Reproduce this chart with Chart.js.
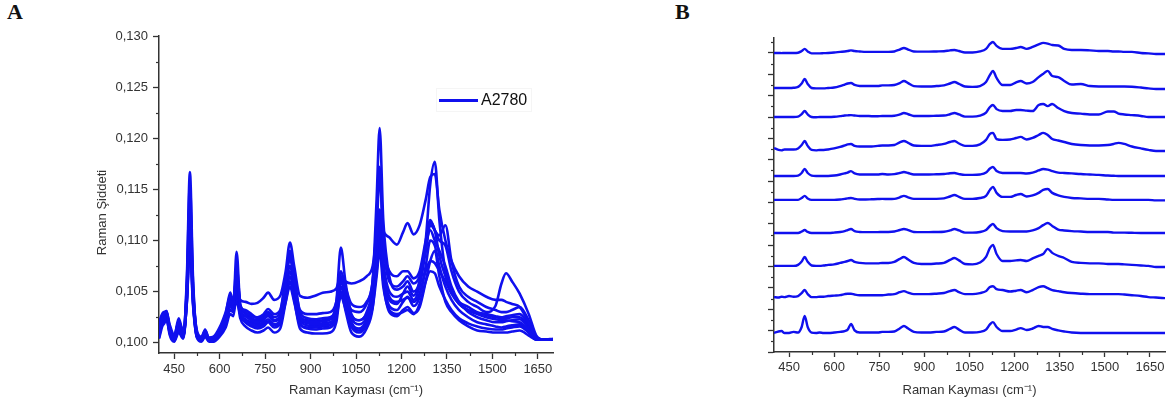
<!DOCTYPE html>
<html>
<head>
<meta charset="utf-8">
<script src="https://cdn.jsdelivr.net/npm/chart.js@4.4.1/dist/chart.umd.min.js"></script>
<style>
  html, body { margin: 0; padding: 0; background: #fff; }
  #page { position: relative; width: 1170px; height: 405px; overflow: hidden; font-family: "Liberation Sans", Arial, sans-serif; }
  .panel { position: absolute; top: 0; width: 570px; height: 405px; }
  #boxA { left: 0; }
  #boxB { left: 600px; }
  .tag { position: absolute; top: 1px; font: bold 22px/22px "Liberation Serif", serif; color: #111; }
  .legend { position: absolute; left: 436px; top: 88px; width: 94px; height: 22px; border: 1px solid #f5f5f5; }
  .legend .ln { position: absolute; left: 2px; top: 10px; width: 39px; height: 2.5px; background: #1010ee; }
  .legend .tx { position: absolute; left: 44px; top: 0; font-size: 16px; line-height: 22px; color: #111; }
</style>
</head>
<body>
<div id="page">
  <div class="tag" style="left:7px">A</div>
  <div class="tag" style="left:675px">B</div>
  <div class="panel" id="boxA"><canvas id="chartA" width="570" height="405"></canvas></div>
  <div class="panel" id="boxB"><canvas id="chartB" width="570" height="405"></canvas></div>
  <div class="legend"><div class="ln"></div><div class="tx">A2780</div></div>
</div>
<script>
// Raman shift grid (cm-1) shared by all spectra
const shift = [400, 415, 425, 435, 450, 465, 480, 492, 502, 512, 525, 540, 552, 565, 580, 600, 620, 635, 645, 656,
  668, 685, 705, 725, 745, 760, 780, 800, 818, 832, 846, 865, 890, 915, 940, 965, 985, 1000, 1015, 1035,
  1060, 1085, 1105, 1118, 1128, 1140, 1160, 1185, 1205, 1220, 1240, 1260, 1280, 1295, 1310, 1325, 1345, 1365, 1390, 1420,
  1450, 1480, 1510, 1530, 1545, 1565, 1590, 1620, 1645, 1670, 1700];

// Panel A: overlaid A2780 spectra (Raman intensity)
const specA = [
  [0.1015,0.1028,0.1030,0.1018,0.1008,0.1020,0.1012,0.1050,0.1110,0.1050,0.1012,0.1006,0.1012,0.1005,0.1006,0.1015,0.1030,0.1045,0.1042,0.1065,0.1042,0.1040,0.1038,0.1039,0.1044,0.1049,0.1042,0.1046,0.1070,0.1098,0.1075,0.1046,0.1044,0.1046,0.1049,0.1050,0.1053,0.1065,0.1060,0.1058,0.1060,0.1065,0.1075,0.1105,0.1130,0.1110,0.1103,0.1096,0.1108,0.1117,0.1106,0.1115,0.1140,0.1162,0.1165,0.1130,0.1100,0.1080,0.1065,0.1055,0.1050,0.1045,0.1042,0.1042,0.1040,0.1038,0.1035,0.1020,0.1005,0.1003,0.1004],
  [0.1008,0.1025,0.1031,0.1015,0.1003,0.1022,0.1008,0.1060,0.1155,0.1060,0.1010,0.1003,0.1011,0.1003,0.1004,0.1012,0.1025,0.1042,0.1038,0.1075,0.1038,0.1030,0.1026,0.1025,0.1028,0.1033,0.1028,0.1032,0.1060,0.1085,0.1062,0.1032,0.1028,0.1028,0.1029,0.1030,0.1040,0.1070,0.1055,0.1038,0.1035,0.1040,0.1060,0.1120,0.1172,0.1100,0.1060,0.1055,0.1060,0.1065,0.1058,0.1065,0.1090,0.1115,0.1110,0.1100,0.1095,0.1070,0.1050,0.1040,0.1035,0.1030,0.1036,0.1058,0.1068,0.1060,0.1048,0.1028,0.1007,0.1003,0.1003],
  [0.1005,0.1028,0.1031,0.1010,0.1002,0.1015,0.1005,0.1065,0.1167,0.1065,0.1008,0.1002,0.1009,0.1002,0.1003,0.1010,0.1020,0.1035,0.1035,0.1089,0.1035,0.1022,0.1018,0.1016,0.1022,0.1028,0.1022,0.1026,0.1055,0.1090,0.1060,0.1025,0.1020,0.1020,0.1021,0.1023,0.1040,0.1093,0.1060,0.1028,0.1022,0.1030,0.1060,0.1140,0.1210,0.1120,0.1065,0.1052,0.1055,0.1060,0.1050,0.1060,0.1100,0.1155,0.1177,0.1120,0.1070,0.1050,0.1038,0.1032,0.1028,0.1025,0.1023,0.1022,0.1022,0.1021,0.1020,0.1012,0.1004,0.1003,0.1003],
  [0.1018,0.1022,0.1026,0.1013,0.1005,0.1016,0.1009,0.1055,0.1140,0.1055,0.1010,0.1005,0.1010,0.1004,0.1005,0.1013,0.1028,0.1049,0.1040,0.1065,0.1036,0.1032,0.1028,0.1024,0.1026,0.1030,0.1025,0.1030,0.1065,0.1080,0.1065,0.1030,0.1024,0.1023,0.1024,0.1025,0.1035,0.1065,0.1050,0.1032,0.1030,0.1038,0.1060,0.1110,0.1165,0.1100,0.1070,0.1065,0.1070,0.1070,0.1063,0.1070,0.1100,0.1120,0.1110,0.1105,0.1115,0.1080,0.1055,0.1045,0.1040,0.1035,0.1032,0.1030,0.1030,0.1032,0.1035,0.1022,0.1006,0.1003,0.1003],
  [0.1012,0.1020,0.1025,0.1012,0.1003,0.1014,0.1006,0.1050,0.1130,0.1050,0.1008,0.1003,0.1008,0.1002,0.1003,0.1011,0.1023,0.1040,0.1036,0.1060,0.1032,0.1026,0.1022,0.1020,0.1023,0.1027,0.1021,0.1025,0.1055,0.1075,0.1056,0.1025,0.1019,0.1018,0.1019,0.1020,0.1030,0.1060,0.1045,0.1024,0.1018,0.1025,0.1045,0.1090,0.1130,0.1080,0.1050,0.1045,0.1048,0.1050,0.1042,0.1055,0.1090,0.1118,0.1110,0.1085,0.1065,0.1050,0.1040,0.1035,0.1030,0.1028,0.1026,0.1025,0.1026,0.1027,0.1028,0.1018,0.1005,0.1003,0.1003],
  [0.1006,0.1024,0.1029,0.1014,0.1004,0.1017,0.1007,0.1048,0.1120,0.1048,0.1007,0.1003,0.1010,0.1003,0.1003,0.1010,0.1020,0.1036,0.1033,0.1055,0.1030,0.1023,0.1020,0.1018,0.1020,0.1023,0.1018,0.1022,0.1050,0.1070,0.1052,0.1022,0.1017,0.1016,0.1017,0.1018,0.1032,0.1062,0.1044,0.1020,0.1014,0.1022,0.1042,0.1085,0.1120,0.1070,0.1042,0.1038,0.1048,0.1055,0.1046,0.1060,0.1095,0.1110,0.1100,0.1090,0.1075,0.1055,0.1040,0.1030,0.1025,0.1022,0.1020,0.1020,0.1021,0.1022,0.1023,0.1014,0.1004,0.1003,0.1003],
  [0.1014,0.1018,0.1022,0.1010,0.1002,0.1012,0.1005,0.1045,0.1115,0.1045,0.1006,0.1002,0.1007,0.1002,0.1002,0.1008,0.1018,0.1032,0.1030,0.1050,0.1028,0.1020,0.1016,0.1014,0.1016,0.1020,0.1015,0.1019,0.1045,0.1065,0.1048,0.1019,0.1014,0.1013,0.1014,0.1015,0.1025,0.1055,0.1038,0.1016,0.1010,0.1018,0.1038,0.1080,0.1115,0.1065,0.1036,0.1032,0.1040,0.1045,0.1036,0.1045,0.1075,0.1100,0.1095,0.1075,0.1055,0.1042,0.1032,0.1025,0.1020,0.1018,0.1016,0.1015,0.1016,0.1017,0.1018,0.1010,0.1003,0.1003,0.1003],
  [0.1004,0.1020,0.1024,0.1008,0.1001,0.1010,0.1004,0.1042,0.1105,0.1042,0.1005,0.1001,0.1006,0.1001,0.1001,0.1006,0.1015,0.1028,0.1026,0.1045,0.1024,0.1016,0.1012,0.1010,0.1012,0.1015,0.1010,0.1014,0.1040,0.1060,0.1042,0.1014,0.1010,0.1009,0.1009,0.1010,0.1020,0.1050,0.1032,0.1010,0.1006,0.1014,0.1034,0.1075,0.1105,0.1060,0.1030,0.1026,0.1032,0.1035,0.1029,0.1035,0.1060,0.1080,0.1090,0.1065,0.1040,0.1030,0.1022,0.1016,0.1012,0.1011,0.1010,0.1010,0.1010,0.1011,0.1012,0.1007,0.1003,0.1003,0.1003],
  [0.1010,0.1026,0.1028,0.1016,0.1006,0.1024,0.1010,0.1040,0.1100,0.1040,0.1009,0.1004,0.1013,0.1004,0.1004,0.1012,0.1026,0.1044,0.1038,0.1042,0.1034,0.1028,0.1024,0.1022,0.1024,0.1026,0.1022,0.1026,0.1045,0.1055,0.1046,0.1026,0.1022,0.1021,0.1022,0.1023,0.1030,0.1048,0.1040,0.1026,0.1022,0.1028,0.1042,0.1070,0.1095,0.1065,0.1045,0.1040,0.1042,0.1044,0.1040,0.1048,0.1070,0.1080,0.1078,0.1070,0.1060,0.1048,0.1038,0.1032,0.1029,0.1027,0.1025,0.1024,0.1024,0.1025,0.1025,0.1016,0.1005,0.1003,0.1003],
  [0.1020,0.1030,0.1027,0.1012,0.1003,0.1013,0.1006,0.1040,0.1095,0.1038,0.1006,0.1002,0.1008,0.1002,0.1002,0.1009,0.1020,0.1038,0.1032,0.1040,0.1028,0.1022,0.1018,0.1016,0.1018,0.1021,0.1017,0.1020,0.1040,0.1055,0.1040,0.1018,0.1015,0.1015,0.1016,0.1017,0.1026,0.1045,0.1034,0.1016,0.1012,0.1019,0.1035,0.1065,0.1090,0.1055,0.1032,0.1028,0.1030,0.1032,0.1028,0.1038,0.1060,0.1070,0.1068,0.1055,0.1042,0.1032,0.1024,0.1019,0.1016,0.1014,0.1013,0.1013,0.1014,0.1015,0.1016,0.1010,0.1003,0.1003,0.1003]
];

// Panel B: the same kind of spectra stacked; baseline of each trace and its shape above it
const offsetB = [14.0, 12.36, 11.0, 9.46, 8.24, 7.12, 5.57, 4.03, 2.57, 0.89];
const specB = [
  [0,0,-0.01,0,0,0,0.01,0.09,0.19,0.07,-0.02,-0.02,-0.02,-0.01,0,0.02,0.05,0.07,0.09,0.12,0.09,0.07,0.05,0.05,0.05,0.05,0.05,0.07,0.16,0.23,0.16,0.07,0.06,0.06,0.07,0.08,0.12,0.14,0.09,0.02,0.02,0.07,0.19,0.42,0.51,0.33,0.19,0.19,0.23,0.28,0.19,0.28,0.40,0.47,0.44,0.37,0.35,0.19,0.14,0.14,0.12,0.09,0.09,0.07,0.07,0.05,0.05,0,-0.02,-0.05,-0.05],
  [0,0,0,0,0,0.01,0.05,0.21,0.42,0.19,0,-0.02,-0.02,-0.02,0,0.02,0.09,0.16,0.21,0.23,0.14,0.09,0.09,0.09,0.09,0.12,0.12,0.14,0.23,0.33,0.23,0.09,0.07,0.07,0.09,0.12,0.21,0.28,0.19,0.07,0.05,0.09,0.28,0.61,0.80,0.47,0.14,0.14,0.26,0.33,0.21,0.28,0.51,0.66,0.80,0.56,0.51,0.33,0.16,0.19,0.09,0.07,0.07,0.07,0.07,0.07,0.06,0.02,-0.02,-0.05,-0.05],
  [0,0,0,0,0,0,0.02,0.14,0.28,0.12,0,-0.01,0,0,0,0.01,0.04,0.07,0.08,0.09,0.07,0.05,0.05,0.04,0.04,0.05,0.05,0.06,0.12,0.19,0.13,0.05,0.05,0.05,0.06,0.07,0.13,0.19,0.12,0.02,0.02,0.07,0.21,0.47,0.56,0.37,0.28,0.28,0.33,0.33,0.30,0.28,0.56,0.61,0.51,0.61,0.42,0.28,0.19,0.16,0.12,0.12,0.26,0.26,0.16,0.12,0.09,0.05,0,0,0],
  [0.09,0,-0.02,0.02,0.02,0.02,0.07,0.23,0.42,0.19,0,-0.02,0,0,0.02,0.07,0.14,0.21,0.26,0.28,0.19,0.16,0.16,0.16,0.19,0.21,0.21,0.23,0.35,0.42,0.33,0.21,0.19,0.19,0.23,0.28,0.37,0.42,0.30,0.19,0.19,0.26,0.47,0.75,0.80,0.51,0.47,0.49,0.56,0.61,0.49,0.56,0.70,0.80,0.70,0.51,0.44,0.37,0.28,0.23,0.21,0.21,0.23,0.28,0.33,0.28,0.16,0.07,0,-0.05,-0.05],
  [0,0,0,0,0,0,0.02,0.14,0.33,0.14,0.02,0,0,0,0,0.02,0.07,0.12,0.16,0.23,0.12,0.07,0.07,0.07,0.07,0.09,0.07,0.09,0.14,0.19,0.14,0.07,0.07,0.07,0.08,0.09,0.13,0.14,0.09,0.05,0.05,0.07,0.16,0.35,0.42,0.23,0.14,0.14,0.14,0.14,0.12,0.16,0.26,0.33,0.30,0.23,0.16,0.14,0.12,0.09,0.07,0.05,0.02,0.01,0,0,0,0,0,0,0],
  [0,0,0,0,0,0,0,0.09,0.19,0.07,0,0,0,0,0,0,0.02,0.05,0.07,0.09,0.05,0.02,0.02,0.03,0.04,0.05,0.04,0.05,0.12,0.19,0.12,0.05,0.05,0.05,0.05,0.07,0.16,0.23,0.14,0.05,0.05,0.09,0.19,0.47,0.61,0.33,0.14,0.14,0.23,0.28,0.16,0.21,0.33,0.47,0.51,0.33,0.21,0.14,0.09,0.07,0.05,0.05,0.02,0,0,0,0,0,0,-0.02,-0.02],
  [0,0,0,0,0,0,0,0.07,0.14,0.05,0,0,0,0,0,0.02,0.05,0.09,0.14,0.19,0.09,0.05,0.04,0.04,0.04,0.05,0.05,0.07,0.14,0.19,0.14,0.05,0.04,0.04,0.05,0.06,0.12,0.19,0.12,0.02,0.02,0.05,0.14,0.33,0.42,0.23,0.09,0.07,0.07,0.07,0.07,0.12,0.23,0.37,0.47,0.33,0.16,0.12,0.09,0.07,0.05,0.05,0.05,0.02,0.02,0.02,0.01,0,0,0,0],
  [0,0,0,0,0,0,0.05,0.21,0.42,0.19,0.02,0,0,0.02,0.05,0.07,0.14,0.19,0.23,0.28,0.19,0.14,0.12,0.12,0.12,0.14,0.14,0.19,0.33,0.42,0.30,0.14,0.09,0.09,0.11,0.14,0.28,0.37,0.26,0.09,0.07,0.16,0.42,0.84,0.98,0.56,0.23,0.23,0.26,0.28,0.23,0.35,0.47,0.56,0.80,0.61,0.47,0.37,0.19,0.14,0.12,0.12,0.09,0.09,0.09,0.07,0.05,0.02,0,-0.05,-0.05],
  [0,-0.02,0.02,0,0.05,0.02,0.05,0.19,0.33,0.14,0,0,0.02,0.02,0.05,0.07,0.09,0.14,0.16,0.16,0.12,0.09,0.09,0.09,0.09,0.09,0.12,0.14,0.23,0.28,0.21,0.14,0.14,0.14,0.16,0.19,0.28,0.33,0.23,0.14,0.14,0.19,0.28,0.47,0.51,0.37,0.33,0.26,0.30,0.33,0.23,0.33,0.47,0.51,0.42,0.33,0.28,0.23,0.19,0.16,0.14,0.14,0.14,0.14,0.14,0.12,0.09,0.05,0,-0.02,-0.05],
  [0,0.07,0.09,0,0,0.05,0.02,0.28,0.80,0.28,0.02,0,0.02,0,0,0.02,0.05,0.09,0.16,0.42,0.12,0.02,0.02,0.02,0.02,0.05,0.05,0.07,0.21,0.33,0.21,0.05,0.02,0.02,0.05,0.07,0.19,0.28,0.16,0.02,0.02,0.05,0.16,0.40,0.51,0.28,0.09,0.09,0.16,0.23,0.14,0.21,0.33,0.28,0.28,0.19,0.12,0.07,0.02,0,0,0,0,0,0,0,0,0,0,0,0]
];

const blue = '#1010ee';
const ink = '#333';
Chart.defaults.font.family = '"Liberation Sans", Arial, sans-serif';
Chart.defaults.color = ink;

// short ticks halfway between the labelled ones
const minorTicks = {
  id: 'minorTicks',
  afterDraw(chart, args, opts) {
    const ctx = chart.ctx;
    ctx.save();
    ctx.strokeStyle = ink;
    ctx.lineWidth = 1.2;
    opts.axes.forEach(([id, len]) => {
      const s = chart.scales[id];
      const t = s.ticks;
      const step = t[1].value - t[0].value;
      for (let v = t[0].value - step / 2; v <= s.max; v += step) {
        if (v < s.min) continue;
        const p = Math.round(s.getPixelForValue(v)) + 0.5;
        ctx.beginPath();
        if (s.isHorizontal()) { ctx.moveTo(p, s.top); ctx.lineTo(p, s.top + len); }
        else { ctx.moveTo(s.right - len, p); ctx.lineTo(s.right, p); }
        ctx.stroke();
      }
    });
    ctx.restore();
  }
};

// y title of panel A sits a little below the middle of the axis
const sideTitle = {
  id: 'sideTitle',
  afterDraw(chart, args, opts) {
    const { ctx, chartArea } = chart;
    ctx.save();
    ctx.font = '13px "Liberation Sans", Arial, sans-serif';
    ctx.fillStyle = ink;
    ctx.textAlign = 'center';
    ctx.textBaseline = 'middle';
    ctx.translate(opts.x, (chartArea.top + chartArea.bottom) / 2 + opts.dy);
    ctx.rotate(-Math.PI / 2);
    ctx.fillText(opts.text, 0, 0);
    ctx.restore();
  }
};

function xAxis(height, tickLen) {
  return {
    type: 'linear', min: 400, max: 1700,
    ticks: { stepSize: 150, includeBounds: false, autoSkip: false, maxRotation: 0, padding: 3,
      font: { size: 13 }, color: ink, callback: v => String(v) },
    grid: { drawOnChartArea: false, tickLength: tickLen, tickColor: ink, tickWidth: 1.3 },
    border: { color: ink, width: 1.5 },
    title: { display: true, text: 'Raman Kayması (cm⁻¹)', font: { size: 13 }, color: ink, padding: { top: 0, bottom: 1 } },
    afterFit: s => { s.height = height; }
  };
}

function lines(rows, base, width) {
  return rows.map((row, k) => ({
    label: 'A2780',
    data: shift.map((x, i) => ({ x: x, y: row[i] + (base ? base[k] : 0) })),
    borderColor: blue, borderWidth: width, pointRadius: 0,
    cubicInterpolationMode: 'monotone', fill: false
  }));
}

new Chart(document.getElementById('chartA'), {
  type: 'line',
  data: { datasets: lines(specA, null, 2.6) },
  options: {
    responsive: false, animation: false, devicePixelRatio: 1,
    layout: { padding: { left: 90, right: 17, top: 36, bottom: 6 } },
    plugins: { legend: { display: false }, tooltip: { enabled: false },
      minorTicks: { axes: [['x', 3], ['y', 3]] },
      sideTitle: { text: 'Raman Şiddeti', x: 102, dy: 18 } },
    scales: {
      x: xAxis(46, 6),
      y: {
        min: 0.099, max: 0.130,
        ticks: { stepSize: 0.005, includeBounds: false, padding: 5, font: { size: 13 }, color: ink,
          callback: v => v.toFixed(3).replace('.', ',') },
        grid: { drawOnChartArea: false, tickLength: 6, tickColor: ink, tickWidth: 1.3 },
        border: { color: ink, width: 1.5 },
        afterFit: s => { s.width = 69; }
      }
    }
  },
  plugins: [minorTicks, sideTitle]
});

new Chart(document.getElementById('chartB'), {
  type: 'line',
  data: { datasets: lines(specB, offsetB, 2.4) },
  options: {
    responsive: false, animation: false, devicePixelRatio: 1,
    layout: { padding: { left: 164, right: 5, top: 38, bottom: 6 } },
    plugins: { legend: { display: false }, tooltip: { enabled: false },
      minorTicks: { axes: [['x', 3], ['y', 3]] } },
    scales: {
      x: xAxis(47, 5),
      y: {
        min: 0, max: 14.7,
        ticks: { stepSize: 1, includeBounds: false, display: false },
        grid: { drawOnChartArea: false, tickLength: 6, tickColor: ink, tickWidth: 1.3 },
        border: { color: ink, width: 1.5 },
        afterFit: s => { s.width = 10; }
      }
    }
  },
  plugins: [minorTicks]
});
</script>
</body>
</html>
